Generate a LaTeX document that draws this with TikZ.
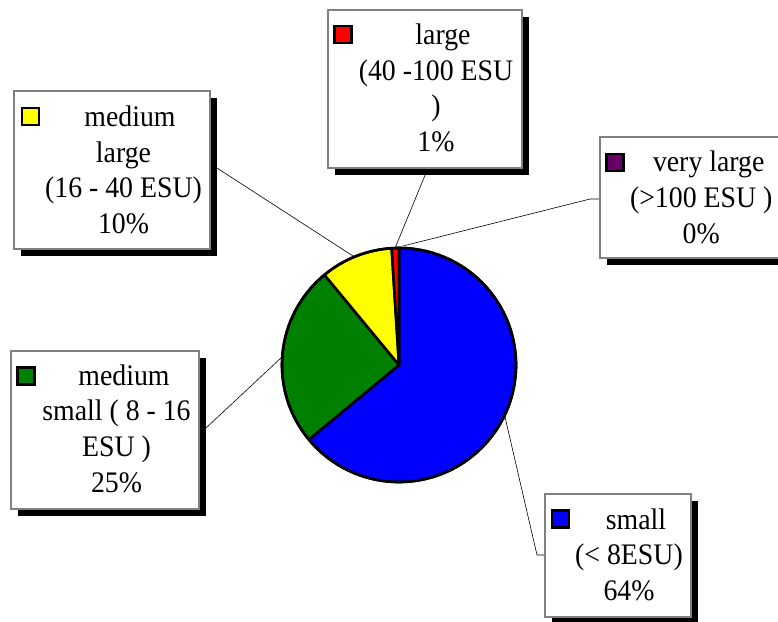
\documentclass[tikz,border=0pt]{standalone}
\usepackage{fontspec}
\setmainfont{Liberation Serif}
\newfontfamily\lblfont[FakeStretch=0.933]{Liberation Serif}
\usetikzlibrary{shadows}
\definecolor{pblue}{RGB}{0,0,255}
\definecolor{pgreen}{RGB}{0,128,0}
\definecolor{pyellow}{RGB}{255,255,0}
\definecolor{pred}{RGB}{255,0,0}
\definecolor{ppurple}{RGB}{102,0,102}
\definecolor{boxgray}{RGB}{128,128,128}
\begin{document}
\begin{tikzpicture}[x=1pt,y=1pt,
  labelbox/.style={draw=boxgray, line width=1.2pt, fill=white, inner sep=0pt, rectangle,
    drop shadow={shadow xshift=7pt, shadow yshift=-7pt, fill=black, opacity=1}},
  keysq/.style={draw=black, line width=2.2pt, inner sep=0pt, minimum size=17pt},
  labeltext/.style={align=center, inner sep=0pt, font=\lblfont\fontsize{29.8}{35.7}\selectfont},
  leader/.style={draw=black, line width=0.6pt},
  slice/.style={draw=black, line width=2.6pt, line join=round}]
\useasboundingbox (0,0) rectangle (778,-621);

% pie centre and leader end points
\coordinate (pc) at (399,-365);
\coordinate (mlpie) at (353,-256);
\coordinate (lgpie) at (395.5,-247);
\coordinate (vlpie) at (403,-246);
\coordinate (mspie) at (282,-357);
\coordinate (smpie) at (505,-417);
\coordinate (mlbend) at (210,-163.5);
\coordinate (lgbend) at (428,-168);
\coordinate (vlbend) at (590,-199);
\coordinate (vlend) at (600,-199);
\coordinate (msbend) at (199,-434.5);
\coordinate (smbend) at (537,-555);
\coordinate (smend) at (545,-555);

% leader lines
\draw[leader] (mlbend) -- (mlpie);
\draw[leader] (lgbend) -- (lgpie);
\draw[leader] (vlend) -- (vlbend) -- (vlpie);
\draw[leader] (msbend) -- (mspie);
\draw[leader] (smpie) -- (smbend) -- (smend);

% label boxes
\node[labelbox, minimum width=196pt, minimum height=158pt] (mlbox) at (112,-170) {};
\node[labelbox, minimum width=194pt, minimum height=158pt] (lgbox) at (425,-89) {};
\node[labelbox, minimum width=180pt, minimum height=121pt] (vlbox) at (690,-197.5) {};
\node[labelbox, minimum width=188pt, minimum height=158pt] (msbox) at (105,-430) {};
\node[labelbox, minimum width=146pt, minimum height=123pt] (smbox) at (618,-555.5) {};

% keys
\node[keysq, fill=pyellow] (mlkey) at (30.5,-116.5) {};
\node[keysq, fill=pred] (lgkey) at (343,-34.5) {};
\node[keysq, fill=ppurple] (vlkey) at (615,-162.5) {};
\node[keysq, fill=pgreen] (mskey) at (26,-376) {};
\node[keysq, fill=pblue] (smkey) at (560.5,-519) {};

% texts
\node[labeltext] (mltext) at (123.5,-173) {\strut\hspace*{13pt}medium\\\strut large\\\strut (16 - 40 ESU)\\\strut 10\%};
\node[labeltext] (lgtext) at (436,-91) {\strut\hspace*{14pt}large\\\strut (40 -100 ESU\\\strut )\\\strut 1\%};
\node[labeltext] (vltext) at (701.2,-200.5) {\strut\hspace*{15pt}very large\\\strut (>100 ESU )\\\strut 0\%};
\node[labeltext] (mstext) at (116.5,-431.5) {\strut\hspace*{15pt}medium\\\strut small ( 8 - 16\\\strut ESU )\\\strut 25\%};
\node[labeltext] (smtext) at (629,-557.8) {\strut\hspace*{14pt}small\\\strut (< 8ESU)\\\strut 64\%};

% pie
\filldraw[slice, fill=pblue] (pc) -- ++(90:117pt) arc[start angle=90, end angle=-140.4, radius=117pt] -- cycle;
\filldraw[slice, fill=pgreen] (pc) -- ++(-140.4:117pt) arc[start angle=-140.4, end angle=-230.4, radius=117pt] -- cycle;
\filldraw[slice, fill=pyellow] (pc) -- ++(129.6:117pt) arc[start angle=129.6, end angle=93.6, radius=117pt] -- cycle;
\filldraw[slice, fill=pred] (pc) -- ++(93.6:117pt) arc[start angle=93.6, end angle=90, radius=117pt] -- cycle;
\draw[slice] (pc) circle[radius=117pt];
\end{tikzpicture}
\end{document}
